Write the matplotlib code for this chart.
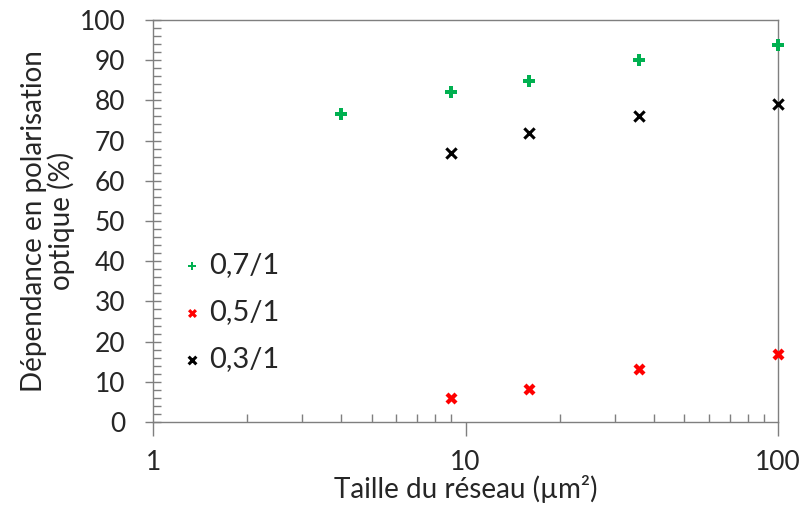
import matplotlib
matplotlib.use('Agg')
import matplotlib.pyplot as plt
from matplotlib.ticker import LogLocator, MultipleLocator, FixedLocator, NullFormatter

plt.rcParams['font.family'] = ['Lato', 'DejaVu Sans']

# Data
size_07 = [4, 9, 16, 36, 100]
dep_07 = [76.5, 82.0, 84.8, 90.0, 93.7]
size_05 = [9, 16, 36, 100]
dep_05 = [6.0, 8.3, 13.2, 17.0]
size_03 = [9, 16, 36, 100]
dep_03 = [67.0, 71.8, 76.0, 79.0]

TXT = '#262626'
GRID = '#7f7f7f'

fig = plt.figure(figsize=(8.02, 5.08), dpi=100)
ax = fig.add_axes([0.191, 0.169, 0.779, 0.792])

ax.scatter(size_07, dep_07, marker='P', s=65, color='#00b050', label='0,7/1',
           linewidths=0, clip_on=False, zorder=3)
ax.scatter(size_05, dep_05, marker='X', s=75, color='#ff0000', label='0,5/1',
           linewidths=0, clip_on=False, zorder=3)
ax.scatter(size_03, dep_03, marker='x', s=55, color='black', label='0,3/1',
           linewidths=2.2, clip_on=False, zorder=3)

ax.set_xscale('log')
ax.set_xlim(1, 100)
ax.set_ylim(0, 100)
ax.yaxis.set_major_locator(MultipleLocator(10))
ax.yaxis.set_minor_locator(MultipleLocator(2))
ax.xaxis.set_major_locator(FixedLocator([1, 10, 100]))
ax.xaxis.set_major_formatter(plt.FuncFormatter(lambda v, p: f'{v:g}'))
ax.xaxis.set_minor_locator(LogLocator(base=10, subs=range(2, 10)))
ax.xaxis.set_minor_formatter(NullFormatter())

for s in ax.spines.values():
    s.set_color(GRID)
    s.set_linewidth(1.0)

ax.tick_params(axis='y', which='major', direction='inout', length=12, width=1.0,
               color=GRID, labelsize=19, labelcolor=TXT, pad=14)
ax.tick_params(axis='x', which='major', direction='out', length=10, width=1.0,
               color=GRID, labelsize=19, labelcolor=TXT, pad=10)
ax.tick_params(which='minor', direction='in', length=6, width=1.0, color=GRID)

ax.set_xlabel('Taille du réseau (µm²)', fontsize=20, color=TXT, labelpad=0)
ax.set_ylabel('Dépendance en polarisation\noptique (%)', fontsize=20,
              color=TXT, labelpad=3, linespacing=1.05)

ax.legend(loc='lower left', bbox_to_anchor=(0.015, 0.088), frameon=False,
          fontsize=21, handletextpad=0.1, labelspacing=0.72, markerscale=0.75,
          labelcolor=TXT, borderpad=0, handlelength=1.0)

fig.savefig('out.png', dpi=100)
